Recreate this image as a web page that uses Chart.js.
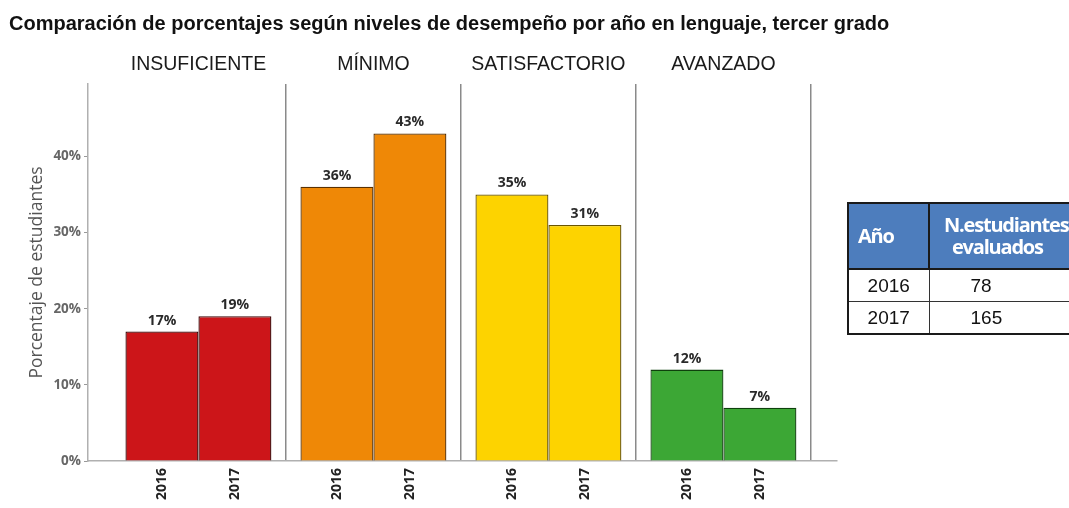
<!DOCTYPE html>
<html><head><meta charset="utf-8">
<script src="https://cdn.jsdelivr.net/npm/chart.js@4.4.1/dist/chart.umd.min.js"></script>
<style>
body{margin:0;background:#fff}
#wrap{position:relative;width:1069px;height:508px;overflow:hidden}
#c{position:absolute;left:0;top:0}
#tbl{position:absolute;left:847px;top:202px;width:250px;table-layout:fixed;border-collapse:collapse;border:2px solid #1a1a1a;font-family:"Liberation Sans",Arial,sans-serif}
#tbl th{background:#4d7dbd;color:#fff;font-family:"Open Sans",sans-serif;font-weight:700;font-size:20px;letter-spacing:-1.2px;line-height:22px;height:64px;border:2px solid #1a1a1a;padding:0}
#tbl td{font-size:19px;color:#111;height:31px;border:1.5px solid #333;padding:0}
</style></head><body>
<div id="wrap"><canvas id="c" width="1069" height="508"></canvas>
<table id="tbl"><colgroup><col style="width:81px"><col style="width:169px"></colgroup>
<thead><tr><th style="text-align:left;padding-left:9px">Año</th><th style="text-align:left;padding-left:14px">N.estudiantes<br>&nbsp;&nbsp;evaluados</th></tr></thead><tbody id="tb"></tbody></table></div>
<script>
const levels=["INSUFICIENTE","MÍNIMO","SATISFACTORIO","AVANZADO"];
const years=["2016","2017"];
const pct2016=[17,36,35,12];
const pct2017=[19,43,31,7];
const yTicks=[0,10,20,30,40];
const tableYears=["2016","2017"];
const evaluated=[78,165];
const fills=["#cc1519","#ef8806","#fdd300","#3ca735"];
const edges=["#3a0404","#5a3000","#6a5500","#0e400c"];

document.getElementById("tb").innerHTML=tableYears.map((y,i)=>
  `<tr><td style="text-align:center">${y}</td><td style="padding-left:41px">${evaluated[i]}</td></tr>`).join("");

const barLabels={id:"barLabels",afterDatasetsDraw(chart){
  const {ctx,chartArea}=chart;
  chart.data.datasets.forEach((ds,di)=>{
    chart.getDatasetMeta(di).data.forEach((el,i)=>{
      ctx.save();
      ctx.fillStyle="#2a2a2a";ctx.font='bold 14px "Open Sans"';ctx.textAlign="center";ctx.textBaseline="bottom";
      ctx.fillText(ds.data[i].y+"%",el.x,el.y-4);
      ctx.translate(el.x,chartArea.bottom+7);ctx.rotate(-Math.PI/2);
      ctx.textAlign="right";ctx.textBaseline="middle";ctx.fillStyle="#222";
      ctx.fillText(ds.label,0,0);
      ctx.restore();
    });
  });
}};

const mkData=vals=>vals.map((v,i)=>({x:i,y:v}));
new Chart(document.getElementById("c"),{type:"bar",
  data:{datasets:[
    {label:years[0],data:mkData(pct2016),backgroundColor:fills,borderColor:edges,borderWidth:1.3},
    {label:years[1],data:mkData(pct2017),backgroundColor:fills,borderColor:edges,borderWidth:1.3}
  ]},
  options:{responsive:false,animation:false,categoryPercentage:0.834,barPercentage:1,
    layout:{padding:{left:9,right:0,top:0,bottom:0}},
    plugins:{legend:{display:false},tooltip:{enabled:false},
      title:{display:true,text:"Comparación de porcentajes según niveles de desempeño por año en lenguaje, tercer grado",align:"start",color:"#111",
        font:{family:'"Liberation Sans",Arial',size:20,weight:"bold"},padding:{top:12,bottom:0}}},
    scales:{
      x:{type:"linear",min:-0.631,max:3.649,offset:false,
        afterBuildTicks:a=>{a.ticks=levels.map((l,i)=>({value:i+0.5}))},
        afterFit:a=>{a.height=47},
        ticks:{display:false},
        grid:{offset:false,color:"#8a8a8a",lineWidth:1.5,drawTicks:false},
        border:{color:"#b0b0b0",width:1.5}},
      x2:{type:"linear",position:"top",min:-0.631,max:3.649,offset:false,
        afterBuildTicks:a=>{a.ticks=levels.map((l,i)=>({value:i}))},
        afterFit:a=>{a.height=84-36},
        ticks:{autoSkip:false,maxRotation:0,padding:0,color:"#1a1a1a",font:{family:'"Liberation Sans",Arial',size:19.5},callback:v=>levels[v]},
        grid:{display:false},border:{display:false}},
      y:{min:0,max:49.5,
        afterBuildTicks:a=>{a.ticks=yTicks.map(v=>({value:v}))},
        afterFit:a=>{a.width=79},
        ticks:{padding:3,color:"#666",font:{family:'"Open Sans"',size:13.5,weight:"bold"},callback:v=>v+"%"},
        grid:{drawOnChartArea:false,tickLength:4,color:"#999"},
        border:{color:"#b0b0b0",width:1.5},
        title:{display:true,text:"Porcentaje de estudiantes",color:"#555",font:{family:'"Open Sans"',size:17.5},padding:{top:18,bottom:0}}},
      yPad:{position:"right",display:true,afterFit:a=>{a.width=232},
        ticks:{display:false},grid:{display:false},border:{display:false}}
    }},
  plugins:[barLabels]});
</script></body></html>
